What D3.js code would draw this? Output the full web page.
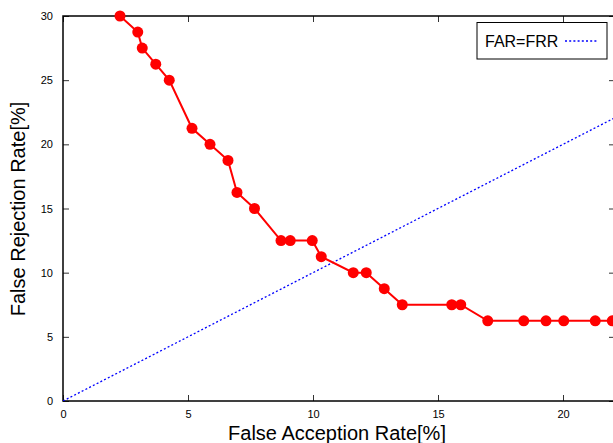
<!DOCTYPE html>
<html>
<head>
<meta charset="utf-8">
<script src="https://cdn.jsdelivr.net/npm/d3@7"></script>
<style>
body { margin: 0; background: #fff; }
text { font-family: "Liberation Sans", Arial, sans-serif; }
</style>
</head>
<body>
<script>
// FAR / FRR curve values
var far = [2.28, 2.99, 3.17, 3.71, 4.25, 5.16, 5.88, 6.6, 6.96, 7.66, 8.72, 9.09, 9.97, 10.33,
           11.61, 12.13, 12.85, 13.57, 15.55, 15.91, 16.99, 18.43, 19.32, 20.03, 21.29, 21.97];
var frr = [30, 28.75, 27.5, 26.25, 25, 21.25, 20, 18.75, 16.25, 15, 12.5, 12.5, 12.5, 11.25,
           10, 10, 8.75, 7.5, 7.5, 7.5, 6.25, 6.25, 6.25, 6.25, 6.25, 6.25];
var eer = [0, 25];
var xTicks = [0, 5, 10, 15, 20];
var yTicks = [0, 5, 10, 15, 20, 25, 30];

var w = 613, h = 443;
var pLeft = 63, pRight = 615, pTop = 16, pBottom = 401;

var svg = d3.select("body").append("svg")
    .attr("width", w)
    .attr("height", h);

var x = d3.scaleLinear().domain([0, 22.08]).range([pLeft, pRight]);
var y = d3.scaleLinear().domain([0, 30]).range([pBottom, pTop]);

var defs = svg.append("defs");
defs.append("clipPath").attr("id", "clip")
  .append("rect")
    .attr("x", pLeft).attr("y", pTop)
    .attr("width", pRight - pLeft).attr("height", pBottom - pTop);

// axes with gnuplot style inner ticks
var tickLen = 6;
svg.append("g")
    .attr("transform", "translate(0," + pBottom + ")")
    .call(d3.axisBottom(x).tickValues(xTicks).tickSize(-tickLen).tickPadding(9).tickFormat(d3.format("d")))
    .call(function(g) {
      g.select(".domain").remove();
      g.selectAll("text").style("font-size", "11px").attr("fill", "#000");
    });
svg.append("g")
    .attr("transform", "translate(0," + pTop + ")")
    .call(d3.axisTop(x).tickValues(xTicks).tickSize(-tickLen).tickFormat(""))
    .call(function(g) { g.select(".domain").remove(); });
svg.append("g")
    .attr("transform", "translate(" + pLeft + ",0)")
    .call(d3.axisLeft(y).tickValues(yTicks).tickSize(-tickLen).tickPadding(10).tickFormat(d3.format("d")))
    .call(function(g) {
      g.select(".domain").remove();
      g.selectAll("text").style("font-size", "11px").attr("fill", "#000");
    });
svg.append("g")
    .attr("transform", "translate(" + pRight + ",0)")
    .call(d3.axisRight(y).tickValues(yTicks).tickSize(-tickLen).tickFormat(""))
    .call(function(g) { g.select(".domain").remove(); });

svg.selectAll(".tick line").attr("stroke", "#333").attr("stroke-width", 1);

// frame
svg.append("rect")
    .attr("x", pLeft).attr("y", pTop)
    .attr("width", pRight - pLeft).attr("height", pBottom - pTop)
    .attr("fill", "none")
    .attr("stroke", "#000")
    .attr("stroke-width", 1.5);

var plot = svg.append("g").attr("clip-path", "url(#clip)");

// FAR=FRR diagonal
plot.append("line")
    .attr("x1", x(eer[0])).attr("y1", y(eer[0]))
    .attr("x2", x(eer[1])).attr("y2", y(eer[1]))
    .attr("stroke", "#0000ff")
    .attr("stroke-width", 1.3)
    .attr("stroke-dasharray", "2,2.2");

var pts = far.map(function(d, i) { return [d, frr[i]]; });

var line = d3.line()
    .x(function(d) { return x(d[0]); })
    .y(function(d) { return y(d[1]); });

svg.append("path")
    .datum(pts)
    .attr("d", line)
    .attr("fill", "none")
    .attr("stroke", "#ff0000")
    .attr("stroke-width", 2);

svg.selectAll("circle.pt")
    .data(pts)
  .enter().append("circle")
    .attr("class", "pt")
    .attr("cx", function(d) { return x(d[0]); })
    .attr("cy", function(d) { return y(d[1]); })
    .attr("r", 5.5)
    .attr("fill", "#ff0000");

// legend
var lg = svg.append("g");
lg.append("rect")
    .attr("x", 477).attr("y", 22.5)
    .attr("width", 130).attr("height", 36.5)
    .attr("fill", "#fff")
    .attr("stroke", "#000")
    .attr("stroke-width", 1);
lg.append("text")
    .attr("x", 485).attr("y", 47)
    .style("font-size", "16px")
    .text("FAR=FRR");
lg.append("line")
    .attr("x1", 565).attr("x2", 598)
    .attr("y1", 41).attr("y2", 41)
    .attr("stroke", "#0000ff")
    .attr("stroke-width", 1.3)
    .attr("stroke-dasharray", "2,2.2");

// axis titles
svg.append("text")
    .attr("x", 337).attr("y", 440)
    .attr("text-anchor", "middle")
    .style("font-size", "20px")
    .text("False Acception Rate[%]");
svg.append("text")
    .attr("transform", "translate(25,209) rotate(-90)")
    .attr("text-anchor", "middle")
    .style("font-size", "20px")
    .text("False Rejection Rate[%]");
</script>
</body>
</html>
